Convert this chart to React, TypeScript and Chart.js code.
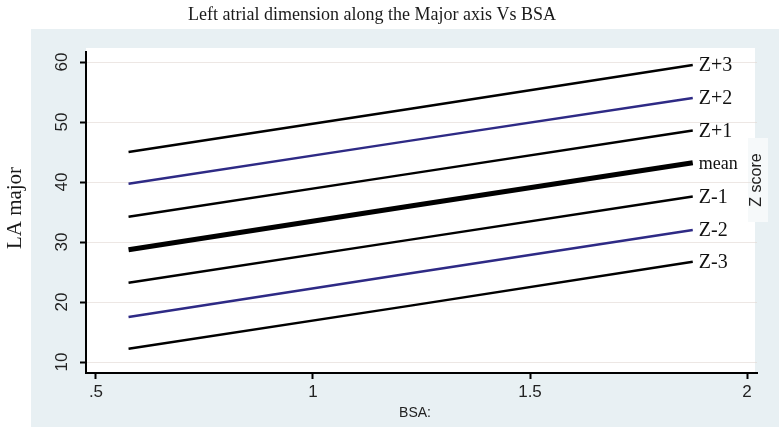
import React, { useEffect, useRef } from 'react';
import { Chart, registerables } from 'chart.js';

Chart.register(...registerables);

// BSA values where each centile line is read
const bsa = [0.575, 1.225, 1.875];
// LA major dimension for each Z-score line
const zPlus3 = [45.0, 52.2, 59.5];
const zPlus2 = [39.7, 46.9, 54.0];
const zPlus1 = [34.2, 41.4, 48.6];
const meanLine = [28.7, 36.0, 43.2];
const zMinus1 = [23.2, 30.4, 37.6];
const zMinus2 = [17.5, 24.8, 32.0];
const zMinus3 = [12.2, 19.4, 26.7];

const seriesLabels = ['Z+3', 'Z+2', 'Z+1', 'mean', 'Z-1', 'Z-2', 'Z-3'];
const seriesValues = [zPlus3, zPlus2, zPlus1, meanLine, zMinus1, zMinus2, zMinus3];
const seriesColors = ['#000000', '#2e2a85', '#000000', '#000000', '#000000', '#2e2a85', '#000000'];
const seriesWidths = [2.5, 2.5, 2.5, 5, 2.5, 2.5, 2.5];

const xTicks = [0.5, 1, 1.5, 2];
const xTickLabels = ['.5', '1', '1.5', '2'];
const yTicks = [10, 20, 30, 40, 50, 60];

const chartTitle = 'Left atrial dimension along the Major axis Vs BSA';
const yTitle = 'LA major';
const xTitle = 'BSA:';
const rightTitle = 'Z score';

const decor = {
  id: 'decor',
  beforeDraw(chart: any) {
    const ctx = chart.ctx;
    const a = chart.chartArea;
    ctx.save();
    ctx.fillStyle = '#ffffff';
    ctx.fillRect(0, 0, chart.width, chart.height);
    ctx.fillStyle = 'rgb(232,240,243)';
    ctx.fillRect(31, 29, 748, 398);
    ctx.fillStyle = '#ffffff';
    ctx.fillRect(a.left, 48, 755 - a.left, a.bottom - 48);
    ctx.fillStyle = '#f6f9fa';
    ctx.fillRect(748, 138, 20, 84);
    ctx.restore();
  },
  afterDraw(chart: any) {
    const ctx = chart.ctx;
    const a = chart.chartArea;
    ctx.save();
    // title
    ctx.fillStyle = '#1a1a1a';
    ctx.font = '18px "Liberation Serif"';
    ctx.textAlign = 'center';
    ctx.textBaseline = 'middle';
    ctx.fillText(chartTitle, 372, 15);
    // y title
    ctx.save();
    ctx.translate(15, 208);
    ctx.rotate(-Math.PI / 2);
    ctx.font = '21px "Liberation Serif"';
    ctx.fillText(yTitle, 0, 0);
    ctx.restore();
    // x title
    ctx.font = '14px "Liberation Sans"';
    ctx.fillStyle = '#222';
    ctx.fillText(xTitle, 415, 413);
    // right title
    ctx.save();
    ctx.translate(757, 180);
    ctx.rotate(-Math.PI / 2);
    ctx.font = '16px "Liberation Sans"';
    ctx.fillText(rightTitle, 0, 0);
    ctx.restore();
    // series end labels
    ctx.textAlign = 'left';
    ctx.fillStyle = '#111';
    seriesLabels.forEach((lab, i) => {
      const meta = chart.getDatasetMeta(i);
      const pt = meta.data[meta.data.length - 1];
      ctx.font = lab === 'mean' ? '18px "Liberation Serif"' : '20px "Liberation Serif"';
      ctx.fillText(lab, pt.x + 6, pt.y + 1);
    });
    ctx.restore();
  },
};

export default function App() {
  const ref = useRef<HTMLCanvasElement | null>(null);
  useEffect(() => {
    if (!ref.current) return;
    const chart = new Chart(ref.current, {
      type: 'line',
      data: {
        datasets: seriesValues.map((vals, i) => ({
          label: seriesLabels[i],
          data: bsa.map((x, j) => ({ x, y: vals[j] })),
          borderColor: seriesColors[i],
          borderWidth: seriesWidths[i],
          pointRadius: 0,
          fill: false,
          tension: 0,
        })),
      },
      options: {
        animation: false,
        responsive: false,
        layout: { padding: { left: 0, right: 23, top: 52, bottom: 0 } },
        plugins: { legend: { display: false }, title: { display: false }, tooltip: { enabled: false } },
        scales: {
          x: {
            type: 'linear',
            min: 0.477,
            max: 2.023,
            afterBuildTicks: (s: any) => {
              s.ticks = xTicks.map((v) => ({ value: v }));
            },
            afterFit: (s: any) => {
              s.height = 58;
            },
            ticks: {
              autoSkip: false,
              maxRotation: 0,
              padding: 3,
              color: '#222',
              font: { family: '"Liberation Sans"', size: 17 },
              callback: (v: any) => xTickLabels[xTicks.indexOf(Number(v))] ?? '',
            },
            grid: { drawOnChartArea: false, tickColor: '#000', tickLength: 6, tickWidth: 2 },
            border: { display: true, color: '#000', width: 2 },
          },
          y: {
            type: 'linear',
            min: 8.17,
            max: 61.67,
            afterBuildTicks: (s: any) => {
              s.ticks = yTicks.map((v) => ({ value: v }));
            },
            afterFit: (s: any) => {
              s.width = 86;
            },
            ticks: {
              autoSkip: false,
              minRotation: 90,
              maxRotation: 90,
              crossAlign: 'center',
              padding: 8,
              color: '#222',
              font: { family: '"Liberation Sans"', size: 17 },
              callback: (v: any) => String(v),
            },
            grid: { color: 'rgba(225,215,210,0.6)', lineWidth: 1, tickColor: '#000', tickLength: 6, tickWidth: 2 },
            border: { display: true, color: '#000', width: 2 },
          },
        },
      },
      plugins: [decor],
    } as any);
    return () => chart.destroy();
  }, []);
  return (
    <div style={{ position: 'absolute', left: 0, top: 0, width: 780, height: 431 }}>
      <canvas ref={ref} width={780} height={431} />
    </div>
  );
}
